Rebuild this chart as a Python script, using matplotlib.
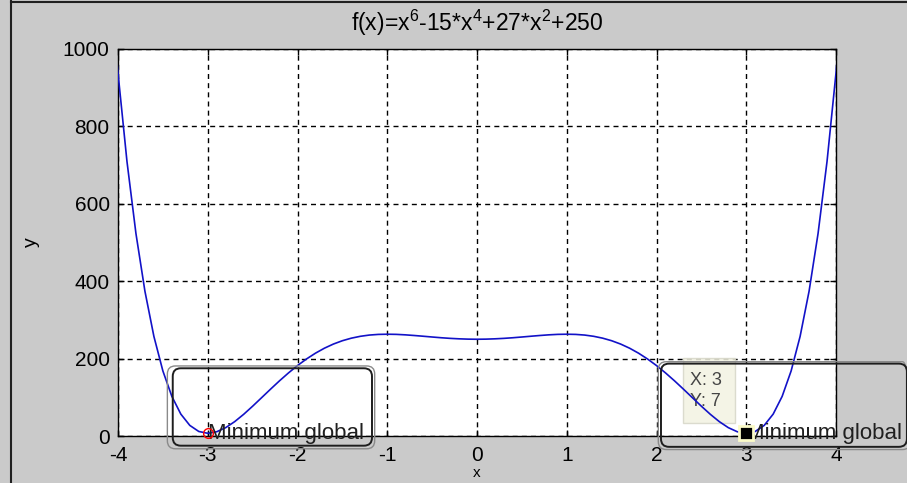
import numpy as np
import matplotlib.pyplot as plt
from matplotlib.patches import FancyBboxPatch, Rectangle
from matplotlib.lines import Line2D

plt.rcParams['font.family'] = ['Liberation Sans', 'DejaVu Sans']
plt.rcParams['mathtext.fontset'] = 'custom'
plt.rcParams['mathtext.rm'] = 'Liberation Sans'
plt.rcParams['mathtext.it'] = 'Liberation Sans:italic'
plt.rcParams['axes.unicode_minus'] = False

# sample points of the curve
x_vals = [-4.01, -4.0, -3.9, -3.8, -3.7, -3.6, -3.5, -3.4, -3.3, -3.2, -3.1,
          -3.0, -2.9, -2.8, -2.7, -2.6, -2.5, -2.4, -2.3, -2.2, -2.1,
          -2.0, -1.9, -1.8, -1.7, -1.6, -1.5, -1.4, -1.3, -1.2, -1.1,
          -1.0, -0.9, -0.8, -0.7, -0.6, -0.5, -0.4, -0.3, -0.2, -0.1,
          0.0, 0.1, 0.2, 0.3, 0.4, 0.5, 0.6, 0.7, 0.8, 0.9,
          1.0, 1.1, 1.2, 1.3, 1.4, 1.5, 1.6, 1.7, 1.8, 1.9,
          2.0, 2.1, 2.2, 2.3, 2.4, 2.5, 2.6, 2.7, 2.8, 2.9,
          3.0, 3.1, 3.2, 3.3, 3.4, 3.5, 3.6, 3.7, 3.8, 3.9, 4.0, 4.05]
y_vals = [963.4, 938.0, 709.3, 523.1, 374.1, 257.3, 168.1, 102.4, 56.6, 27.4, 11.7,
          7.0, 11.0, 21.6, 37.1, 56.0, 77.0, 99.0, 121.1, 142.7, 163.1,
          182.0, 199.0, 214.0, 226.9, 237.6, 246.2, 252.8, 257.6, 260.8, 262.5,
          263.0, 262.6, 261.4, 259.7, 257.8, 255.8, 253.9, 252.3, 251.1, 250.3,
          250.0, 250.3, 251.1, 252.3, 253.9, 255.8, 257.8, 259.7, 261.4, 262.6,
          263.0, 262.5, 260.8, 257.6, 252.8, 246.2, 237.6, 226.9, 214.0, 199.0,
          182.0, 163.1, 142.7, 121.1, 99.0, 77.0, 56.0, 37.1, 21.6, 11.0,
          7.0, 11.7, 27.4, 56.6, 102.4, 168.1, 257.3, 374.1, 523.1, 709.3, 938.0, 1070.2]

x_ticks = [-4, -3, -2, -1, 0, 1, 2, 3, 4]
y_ticks = [0, 200, 400, 600, 800, 1000]

min_left = (-3, 7)
min_right = (3, 7)
label_text = 'Minimum global'
title_text = 'f(x)=x$^{6}$-15*x$^{4}$+27*x$^{2}$+250'

bg = '#cacaca'
fig = plt.figure(figsize=(9.07, 4.83), dpi=100, facecolor=bg)
ax = fig.add_axes([118 / 907, 47 / 483, 718 / 907, 387 / 483])
ax.set_xlim(-4, 4)
ax.set_ylim(0, 1000)
ax.set_xticks(x_ticks)
ax.set_yticks(y_ticks)
ax.tick_params(direction='in', length=4, width=1, top=True, right=True,
               labelsize=15, colors='black')
ax.tick_params(axis='y', pad=6)
ax.tick_params(axis='x', pad=7)
ax.grid(True, color='black', linestyle=(0, (3.6, 3.0)), linewidth=1)
for s in ax.spines.values():
    s.set_linewidth(1)

ax.plot(x_vals, y_vals, color='#1212c8', linewidth=1.2, zorder=4)

ax.set_title(title_text, fontsize=16.5, pad=13)
ax.set_ylabel('y', fontsize=14)
ax.yaxis.set_label_coords(-0.108, 0.5)
ax.set_xlabel('x', fontsize=11)
ax.xaxis.set_label_coords(0.5, -0.077)

# pixels per data unit, so the rounded corners come out round
p0 = ax.transData.transform((0, 0))
aspect = (ax.transData.transform((1, 0))[0] - p0[0]) / (ax.transData.transform((0, 1))[1] - p0[1])


def rbox(x0, y0, x1, y1, color, lw):
    b = FancyBboxPatch((x0, y0), x1 - x0, y1 - y0,
                       boxstyle='round,pad=0,rounding_size=0.09',
                       mutation_aspect=aspect, facecolor='none',
                       edgecolor=color, linewidth=lw, clip_on=False, zorder=6)
    ax.add_patch(b)


# left annotation box
rbox(-3.45, -33, -1.14, 181, '#8a8a8a', 1.0)
rbox(-3.39, -25, -1.17, 175, '#1e1e1e', 1.4)
# right annotation box
rbox(2.02, -35, 4.83, 192, '#8a8a8a', 1.0)
rbox(2.05, -28, 4.79, 187, '#1e1e1e', 1.4)

ax.text(min_left[0], min_left[1], label_text, fontsize=16, ha='left', va='center',
        color='#202020', zorder=7, clip_on=False)
ax.plot(*min_left, marker='o', markersize=7, markerfacecolor='none',
        markeredgecolor='red', markeredgewidth=1.0, zorder=8, clip_on=False)

ax.text(min_right[0], min_right[1], label_text, fontsize=16, ha='left', va='center',
        color='#202020', zorder=7, clip_on=False)

# data tip
tip = Rectangle((2.295, 33), 0.58, 168, facecolor='#f3f3e2', edgecolor='#d6d6c8',
                linewidth=1, alpha=0.85, zorder=3)
ax.add_patch(tip)
ax.text(2.37, 144, 'X: 3', fontsize=13, color='#444444', va='center', zorder=3.5)
ax.text(2.37, 88, 'Y: 7', fontsize=13, color='#444444', va='center', zorder=3.5)
ax.plot(*min_right, marker='s', markersize=10.5, markerfacecolor='black',
        markeredgecolor='#fbfbc8', markeredgewidth=2, zorder=9, clip_on=False)

# window frame lines
fig.add_artist(Line2D([11 / 907, 11 / 907], [0, 1], color='#202020', linewidth=1.5))
fig.add_artist(Line2D([11 / 907, 1], [1 - 1.5 / 483, 1 - 1.5 / 483], color='#202020', linewidth=1.5))

fig.savefig('out.png', dpi=100, facecolor=bg)
